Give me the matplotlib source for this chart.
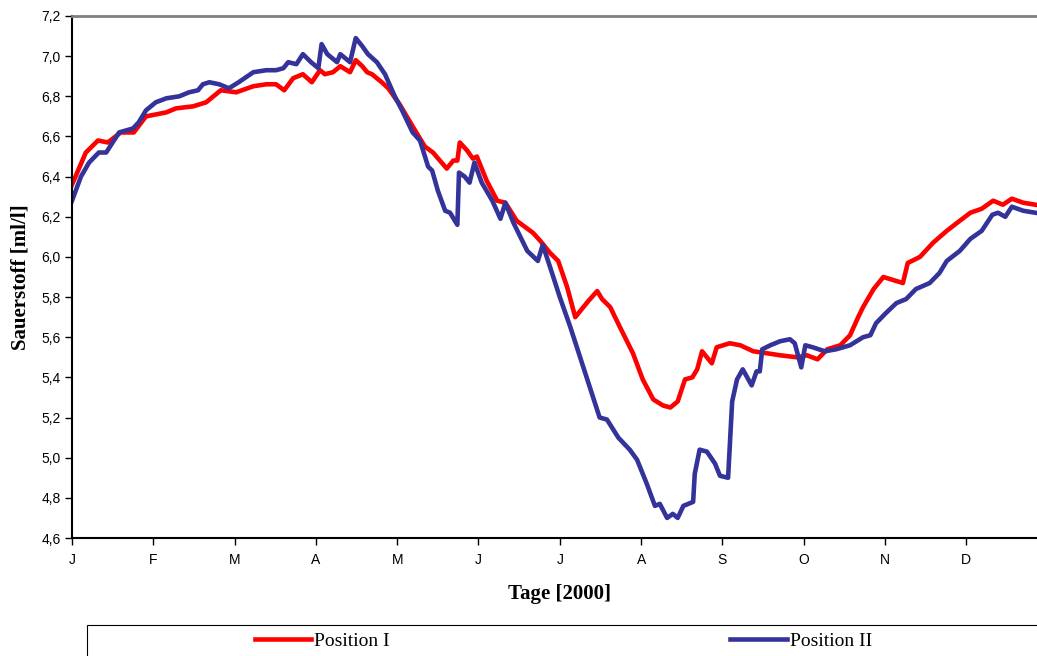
import matplotlib.pyplot as plt
from matplotlib.patches import Rectangle

# Monatsachse: 0 = 1. Januar, 1 = 1. Februar, ...
monate = ["J", "F", "M", "A", "M", "J", "J", "A", "S", "O", "N", "D"]

# Position I
t1 = [0.00, 0.17, 0.32, 0.44, 0.60, 0.76, 0.91, 1.16, 1.28, 1.49, 1.65, 1.83,
      2.02, 2.23, 2.39, 2.51, 2.61, 2.72, 2.84, 2.95, 3.05, 3.11, 3.21, 3.30,
      3.42, 3.49, 3.57, 3.63, 3.69, 3.81, 3.89, 4.03, 4.19, 4.34, 4.44, 4.61,
      4.69, 4.74, 4.77, 4.86, 4.93, 4.98, 5.10, 5.23, 5.33, 5.47, 5.67, 5.76,
      5.88, 5.98, 6.09, 6.19, 6.27, 6.35, 6.46, 6.52, 6.62, 6.74, 6.90, 7.02,
      7.15, 7.27, 7.36, 7.45, 7.54, 7.63, 7.69, 7.75, 7.87, 7.93, 8.09, 8.22,
      8.38, 8.55, 8.71, 8.92, 9.04, 9.17, 9.29, 9.45, 9.57, 9.67, 9.73, 9.86,
      9.98, 10.22, 10.28, 10.43, 10.59, 10.76, 10.92, 11.05, 11.19, 11.33,
      11.45, 11.56, 11.70, 11.85]
o1 = [6.36, 6.52, 6.58, 6.57, 6.62, 6.62, 6.70, 6.72, 6.74, 6.75, 6.77, 6.83,
      6.82, 6.85, 6.86, 6.86, 6.83, 6.89, 6.91, 6.87, 6.93, 6.91, 6.92, 6.95,
      6.92, 6.98, 6.95, 6.92, 6.91, 6.87, 6.84, 6.76, 6.65, 6.55, 6.52, 6.44,
      6.48, 6.48, 6.57, 6.53, 6.49, 6.50, 6.38, 6.28, 6.27, 6.18, 6.12, 6.08,
      6.02, 5.98, 5.85, 5.70, 5.74, 5.78, 5.83, 5.79, 5.75, 5.65, 5.52, 5.39,
      5.29, 5.26, 5.25, 5.28, 5.39, 5.40, 5.44, 5.53, 5.47, 5.55, 5.57, 5.56,
      5.53, 5.52, 5.51, 5.50, 5.51, 5.49, 5.54, 5.56, 5.61, 5.70, 5.75, 5.84,
      5.90, 5.87, 5.97, 6.00, 6.07, 6.13, 6.18, 6.22, 6.24, 6.28,
      6.26, 6.29, 6.27, 6.26]

# Position II
t2 = [0.00, 0.11, 0.21, 0.33, 0.42, 0.50, 0.58, 0.75, 0.82, 0.91, 1.03, 1.16,
      1.32, 1.44, 1.55, 1.61, 1.69, 1.81, 1.93, 2.05, 2.23, 2.39, 2.51, 2.60,
      2.66, 2.76, 2.84, 2.94, 3.03, 3.07, 3.14, 3.26, 3.30, 3.42, 3.49, 3.57,
      3.64, 3.75, 3.85, 3.97, 4.06, 4.19, 4.28, 4.38, 4.43, 4.50, 4.59, 4.65,
      4.74, 4.76, 4.83, 4.89, 4.95, 5.04, 5.17, 5.27, 5.33, 5.43, 5.60, 5.73,
      5.79, 5.88, 6.00, 6.13, 6.25, 6.37, 6.49, 6.58, 6.72, 6.86, 6.95, 7.07,
      7.17, 7.23, 7.32, 7.39, 7.45, 7.52, 7.64, 7.66, 7.72, 7.81, 7.91, 7.97,
      8.07, 8.12, 8.18, 8.25, 8.36, 8.42, 8.46, 8.49, 8.59, 8.71, 8.83, 8.89,
      8.97, 9.02, 9.11, 9.26, 9.40, 9.57, 9.73, 9.82, 9.89, 10.01, 10.14,
      10.26, 10.38, 10.55, 10.67, 10.76, 10.92, 11.05, 11.19, 11.32, 11.39,
      11.48, 11.56, 11.70, 11.85]
o2 = [6.28, 6.40, 6.47, 6.52, 6.52, 6.57, 6.62, 6.64, 6.67, 6.73, 6.77, 6.79,
      6.80, 6.82, 6.83, 6.86, 6.87, 6.86, 6.84, 6.87, 6.92, 6.93, 6.93, 6.94,
      6.97, 6.96, 7.01, 6.97, 6.94, 7.06, 7.01, 6.97, 7.01, 6.97, 7.09, 7.05,
      7.01, 6.97, 6.91, 6.80, 6.73, 6.62, 6.58, 6.45, 6.43, 6.33, 6.23, 6.22,
      6.16, 6.42, 6.40, 6.37, 6.47, 6.37, 6.28, 6.19, 6.27, 6.17, 6.03, 5.98,
      6.06, 5.95, 5.80, 5.65, 5.50, 5.35, 5.20, 5.19, 5.10, 5.04, 4.99, 4.87,
      4.76, 4.77, 4.70, 4.72, 4.70, 4.76, 4.78, 4.92, 5.04, 5.03, 4.97, 4.91,
      4.90, 5.28, 5.39, 5.44, 5.36, 5.43, 5.43, 5.54, 5.56, 5.58, 5.59, 5.57,
      5.45, 5.56, 5.55, 5.53, 5.54, 5.56, 5.60, 5.61, 5.67, 5.72, 5.77,
      5.79, 5.84, 5.87, 5.92, 5.98, 6.03, 6.09, 6.13, 6.21, 6.22,
      6.20, 6.25, 6.23, 6.22]

yticks = [4.6, 4.8, 5.0, 5.2, 5.4, 5.6, 5.8, 6.0, 6.2, 6.4, 6.6, 6.8, 7.0, 7.2]

fig = plt.figure(figsize=(10.37, 6.56), dpi=100)
# Plotfläche ragt rechts etwas über das Bild hinaus (wie im Original abgeschnitten)
ax = fig.add_axes([72 / 1037, 1 - 538 / 656, 12 * 81.3 / 1037, (538 - 16) / 656])

ax.plot(t1, o1, color="#FF0000", lw=3.3, label="Position I")
ax.plot(t2, o2, color="#333399", lw=3.3, label="Position II")

tickfont = ["Liberation Sans Narrow", "Liberation Sans"]
ax.set_xlim(0, 12)
ax.set_ylim(4.6, 7.2)
ax.set_xticks(range(12))
ax.set_xticklabels(monate, family=tickfont, fontsize=10)
ax.set_yticks(yticks)
ax.set_yticklabels([f"{v:.1f}".replace(".", ",") for v in yticks], family=tickfont, fontsize=10)
ax.tick_params(direction="out", length=5, width=1, color="black")
ax.tick_params(axis="x", pad=6)
ax.tick_params(axis="y", pad=3)

for s in ["left", "bottom"]:
    ax.spines[s].set_color("black")
    ax.spines[s].set_linewidth(1.5)
for s in ["top", "right"]:
    ax.spines[s].set_color("#808080")
    ax.spines[s].set_linewidth(2)

ax.set_xlabel("Tage [2000]", family="Liberation Serif", fontweight="bold", fontsize=15, labelpad=12)
ax.set_ylabel("Sauerstoff [ml/l]", family="Liberation Serif", fontweight="bold", fontsize=15, labelpad=8)

# Legendenrahmen unten (im Original abgeschnitten)
fig.add_artist(Rectangle((87 / 1037, -0.05), 1.0, 0.05 + 1 - 625 / 656,
                         transform=fig.transFigure, fill=False, edgecolor="black", lw=0.8))
fig.legend(loc="center left", bbox_to_anchor=(255 / 1037, 1 - 641 / 656), ncol=2,
           frameon=False, borderpad=0, borderaxespad=0, handlelength=2.9,
           handletextpad=0.15, columnspacing=17.5,
           prop={"family": "Liberation Serif", "size": 14})

plt.savefig("out.png", dpi=100)
